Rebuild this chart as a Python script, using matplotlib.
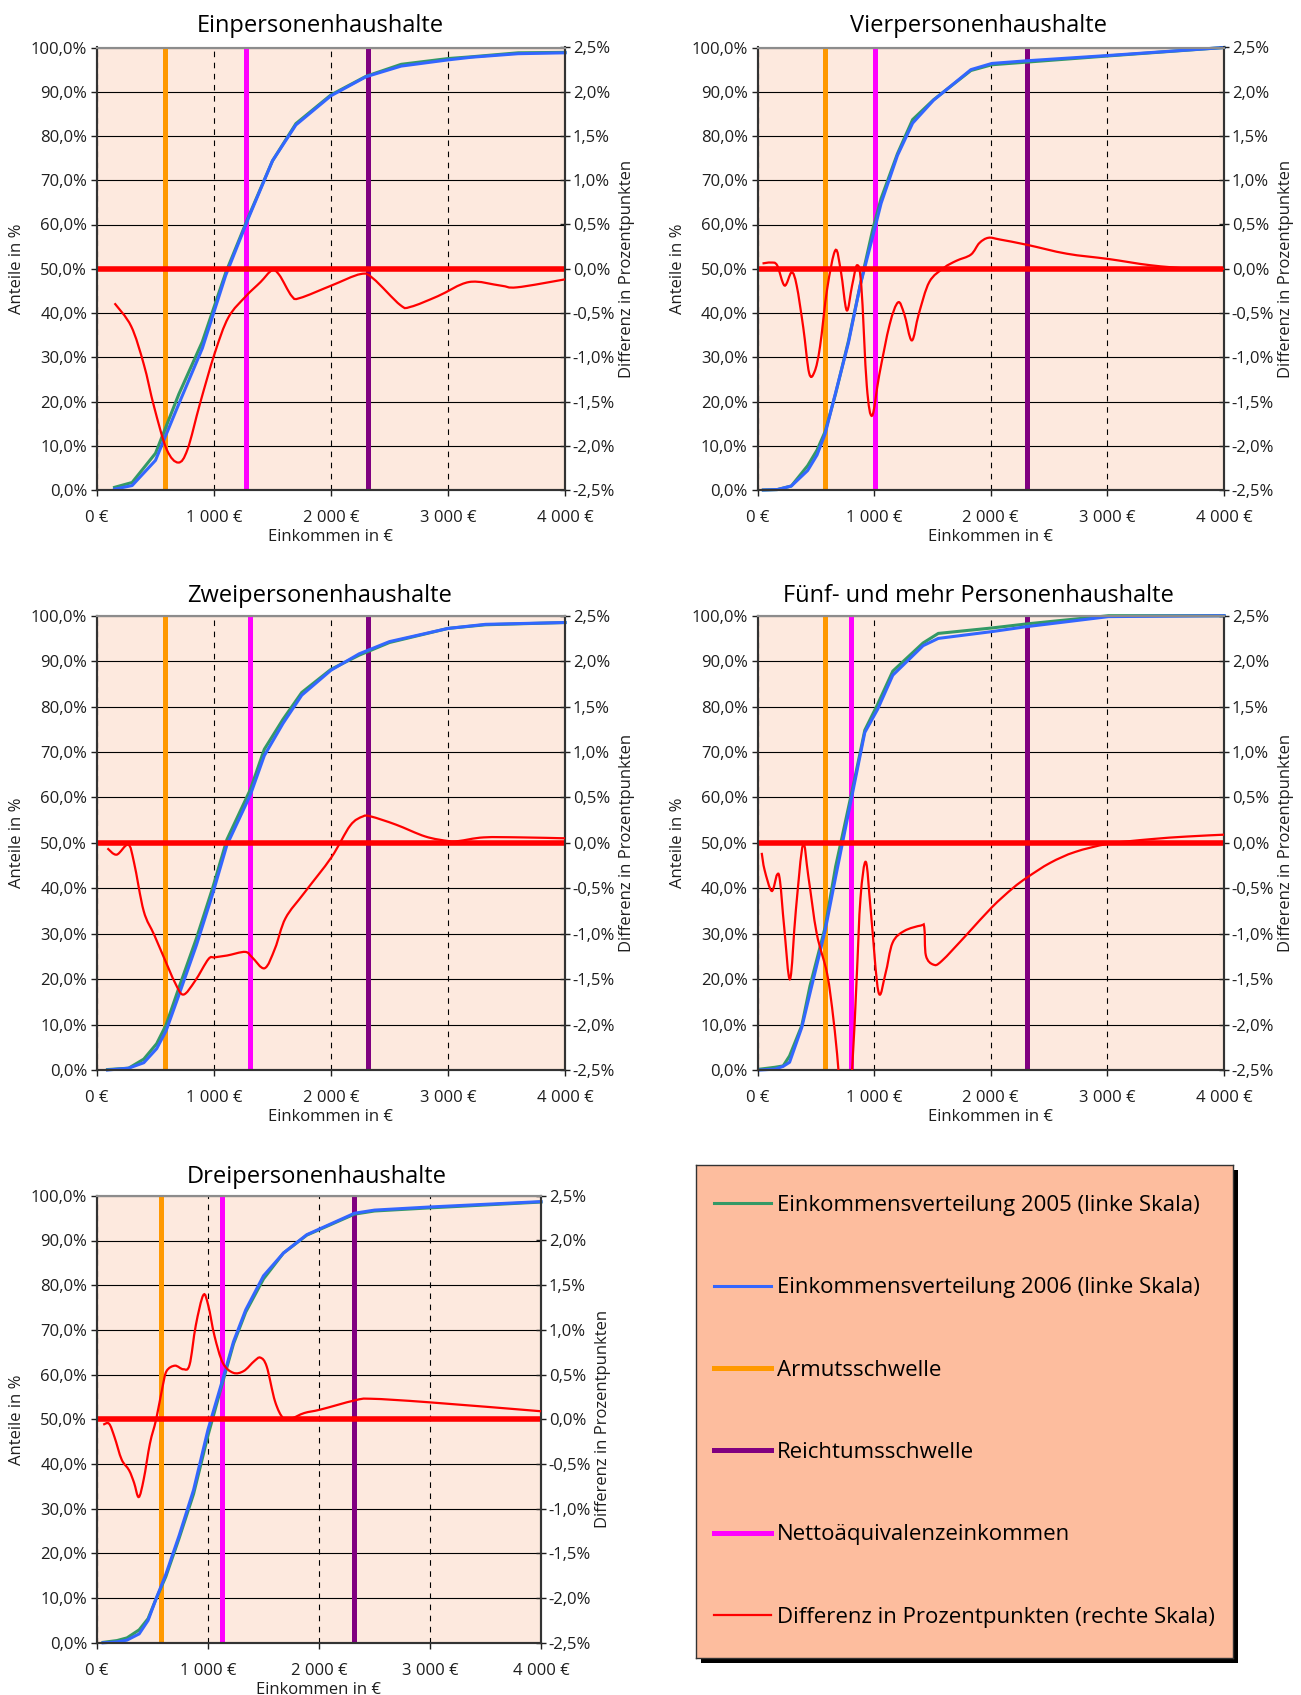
import matplotlib
matplotlib.use('Agg')
import matplotlib.pyplot as plt
from matplotlib.ticker import FuncFormatter, MultipleLocator
from matplotlib.patches import Rectangle, PathPatch
from matplotlib.path import Path
from matplotlib.lines import Line2D

plt.rcParams['font.family'] = ['Open Sans', 'DejaVu Sans']

W, H = 1301, 1695

# Schwellen in Euro (fuer alle Haushaltstypen gleich)
armutsschwelle = 580
reichtumsschwelle = 2314

# --- Einpersonenhaushalte ---
ein_x = [150, 300, 500, 700, 900, 1100, 1300, 1500, 1700, 2000, 2300, 2600, 3000, 3200, 3600, 4000]
ein_2006 = [0.2, 1.0, 6.7, 19.5, 32.0, 48.5, 61.8, 74.4, 82.5, 89.1, 93.4, 95.8, 97.2, 97.8, 98.6, 98.8]
ein_2005 = [0.6, 1.7, 8.3, 21.7, 33.5, 49.1, 62.1, 74.4, 82.8, 89.3, 93.5, 96.2, 97.5, 97.9, 98.8, 98.9]
ein_diff_x = [150, 292, 400, 488, 595, 695, 774, 881, 1005, 1123, 1273, 1398, 1494, 1558, 1665, 1736,
              2003, 2253, 2360, 2592, 2681, 2913, 3180, 3448, 3590, 4000]
ein_diff = [-0.39, -0.65, -1.08, -1.56, -2.04, -2.19, -2.04, -1.52, -0.96, -0.55, -0.31, -0.15, -0.02,
            -0.07, -0.31, -0.33, -0.19, -0.06, -0.11, -0.41, -0.43, -0.31, -0.15, -0.19, -0.21, -0.12]
ein_netto = 1270

# --- Vierpersonenhaushalte ---
vier_x = [50, 170, 290, 430, 510, 580, 670, 780, 880, 990, 1060, 1200, 1330, 1510, 1830, 2010, 2310, 3010, 4000]
vier_2006 = [0.0, 0.1, 0.9, 4.4, 7.9, 12.7, 22.0, 33.3, 46.2, 57.5, 64.8, 75.6, 82.9, 88.1, 95.0, 96.4, 97.0, 98.2, 100.0]
vier_2005 = [0.0, 0.1, 0.9, 5.5, 9.0, 13.2, 21.8, 33.7, 46.2, 59.1, 65.9, 76.0, 83.7, 88.2, 94.8, 96.1, 96.7, 98.1, 100.0]
vier_diff_x = [43, 114, 168, 232, 293, 336, 393, 443, 490, 536, 597, 668, 715, 765, 811, 854, 890, 937,
               983, 1044, 1133, 1205, 1258, 1323, 1383, 1473, 1598, 1705, 1830, 1902, 1980, 2080, 2313,
               2652, 3010, 3367, 3725, 4000]
vier_diff = [0.06, 0.07, 0.04, -0.19, -0.04, -0.19, -0.67, -1.18, -1.16, -0.88, -0.23, 0.21, -0.03, -0.47,
             -0.19, 0.04, -0.19, -1.32, -1.66, -1.20, -0.63, -0.38, -0.51, -0.81, -0.51, -0.15, 0.01, 0.09,
             0.16, 0.29, 0.35, 0.33, 0.27, 0.17, 0.11, 0.04, 0.00, 0.00]
vier_netto = 1010

# --- Zweipersonenhaushalte ---
zwei_x = [90, 270, 400, 510, 590, 700, 850, 990, 1110, 1310, 1430, 1590, 1750, 2000, 2240, 2500, 3000, 3320, 4000]
zwei_2006 = [0.0, 0.4, 1.6, 4.7, 8.6, 16.5, 27.5, 38.9, 49.5, 60.5, 69.2, 76.3, 82.5, 88.0, 91.6, 94.3, 97.2, 98.1, 98.5]
zwei_2005 = [0.1, 0.4, 2.4, 5.8, 9.9, 18.1, 29.0, 40.2, 50.7, 61.7, 70.6, 77.2, 83.1, 88.2, 91.3, 94.1, 97.2, 98.0, 98.5]
zwei_diff_x = [89, 168, 267, 317, 399, 488, 578, 667, 738, 838, 952, 1005, 1112, 1266, 1326, 1433, 1522,
               1611, 1772, 2003, 2164, 2271, 2342, 2556, 2806, 3002, 3091, 3305, 3626, 4000]
zwei_diff = [-0.06, -0.13, -0.02, -0.22, -0.75, -1.01, -1.28, -1.54, -1.67, -1.52, -1.28, -1.26, -1.24,
             -1.20, -1.26, -1.38, -1.16, -0.83, -0.55, -0.16, 0.19, 0.29, 0.29, 0.20, 0.07, 0.02, 0.02,
             0.06, 0.06, 0.05]
zwei_netto = 1305

# --- Fuenf- und mehr Personenhaushalte ---
fuenf_x = [25, 150, 220, 275, 380, 450, 580, 670, 830, 920, 1030, 1160, 1420, 1550, 2010, 2310, 3010, 4000]
fuenf_2006 = [0.0, 0.2, 0.8, 1.7, 9.4, 16.9, 30.7, 42.5, 62.9, 74.3, 79.4, 86.9, 93.4, 95.0, 96.5, 97.6, 99.8, 100.0]
fuenf_2005 = [0.2, 0.6, 0.9, 3.1, 9.8, 18.5, 31.4, 44.8, 63.7, 74.8, 80.5, 87.8, 94.0, 96.1, 97.3, 98.2, 100.0, 100.0]
fuenf_diff_x = [36, 61, 122, 168, 193, 229, 279, 329, 390, 436, 508, 597, 651, 694, 750, 811, 850, 883,
                929, 972, 1037, 1097, 1158, 1258, 1401, 1430, 1444, 1508, 1580, 1794, 2009, 2188, 2313,
                2510, 2724, 3010, 3367, 3689, 4000]
fuenf_diff = [-0.11, -0.30, -0.53, -0.35, -0.42, -0.93, -1.50, -0.74, -0.02, -0.37, -1.00, -1.44, -1.94,
              -2.50, -3.50, -2.50, -1.50, -0.61, -0.21, -0.76, -1.64, -1.44, -1.10, -0.97, -0.91, -0.93,
              -1.24, -1.34, -1.30, -1.01, -0.71, -0.50, -0.38, -0.22, -0.10, -0.01, 0.04, 0.07, 0.09]
fuenf_netto = 805

# --- Dreipersonenhaushalte ---
drei_x = [55, 180, 270, 380, 460, 530, 620, 740, 870, 1000, 1130, 1230, 1340, 1500, 1680, 1890, 2320, 2500, 3000, 4000]
drei_2006 = [0.0, 0.2, 0.6, 2.0, 5.0, 9.7, 15.3, 24.0, 34.2, 47.7, 58.7, 67.4, 74.5, 82.1, 87.2, 91.3, 96.1, 96.8, 97.5, 98.7]
drei_2005 = [0.1, 0.5, 1.1, 2.9, 5.4, 9.7, 14.8, 23.4, 33.3, 46.4, 58.1, 66.9, 74.0, 81.4, 87.2, 91.2, 95.9, 96.6, 97.3, 98.6]
drei_diff_x = [56, 109, 158, 222, 289, 334, 376, 421, 477, 533, 590, 627, 702, 777, 834, 890, 958, 1003,
               1059, 1134, 1228, 1322, 1416, 1472, 1529, 1604, 1679, 1754, 1867, 2017, 2317, 2467, 2994, 4000]
drei_diff = [-0.06, -0.05, -0.20, -0.45, -0.57, -0.71, -0.87, -0.67, -0.27, 0.00, 0.36, 0.54, 0.60, 0.56,
             0.61, 1.05, 1.39, 1.27, 0.93, 0.63, 0.52, 0.54, 0.65, 0.69, 0.59, 0.20, 0.01, 0.01, 0.07,
             0.11, 0.21, 0.23, 0.19, 0.09]
drei_netto = 1130

legend_labels = ['Einkommensverteilung 2005 (linke Skala)', 'Einkommensverteilung 2006 (linke Skala)',
                 'Armutsschwelle', 'Reichtumsschwelle', 'Nettoäquivalenzeinkommen',
                 'Differenz in Prozentpunkten (rechte Skala)']

GREEN = '#339966'
BLUE = '#3366FF'
ORANGE = '#FF9900'
PURPLE = '#800080'
MAGENTA = '#FF00FF'
RED = '#FF0000'
PLOT_BG = '#FDE9DE'
LEG_BG = '#FDBD9E'
TXT = '#1e1e1e'

fig = plt.figure(figsize=(W / 100, H / 100), dpi=100)


def px_axes(left, top, right, bottom):
    return fig.add_axes([left / W, 1 - bottom / H, (right - left) / W, (bottom - top) / H])


def smooth_path(xs, ys):
    # geglaettete Linie wie in Excel (Bezier-Segmente durch die Punkte)
    pts = list(zip(xs, ys))
    n = len(pts)
    verts = [pts[0]]
    codes = [Path.MOVETO]
    for i in range(n - 1):
        p0 = pts[i - 1] if i > 0 else pts[i]
        p1, p2 = pts[i], pts[i + 1]
        p3 = pts[i + 2] if i + 2 < n else pts[i + 1]
        c1 = (p1[0] + (p2[0] - p0[0]) / 6, p1[1] + (p2[1] - p0[1]) / 6)
        c2 = (p2[0] - (p3[0] - p1[0]) / 6, p2[1] - (p3[1] - p1[1]) / 6)
        verts += [c1, c2, p2]
        codes += [Path.CURVE4] * 3
    return Path(verts, codes)


def panel(box, title, x, y06, y05, dx, dy, netto, title_pad, title_shift):
    ax = px_axes(*box)
    width = box[2] - box[0]
    ax.set_facecolor(PLOT_BG)
    ax.set_xlim(0, 4000)
    ax.set_ylim(0, 100)
    ax.yaxis.set_major_locator(MultipleLocator(10))
    ax.xaxis.set_major_locator(MultipleLocator(1000))
    ax.yaxis.set_major_formatter(FuncFormatter(lambda v, p: f'{v:.1f}%'.replace('.', ',')))
    ax.xaxis.set_major_formatter(FuncFormatter(lambda v, p: f'{int(v):,} €'.replace(',', ' ')))
    ax.grid(axis='y', color='black', lw=0.8)
    ax.grid(axis='x', color='black', lw=0.8, linestyle=(0, (5, 5)))
    ax.set_axisbelow(True)

    h_orange = ax.axvline(armutsschwelle, color=ORANGE, lw=3.6, zorder=2)
    h_purple = ax.axvline(reichtumsschwelle, color=PURPLE, lw=3.6, zorder=2)
    h_magenta = ax.axvline(netto, color=MAGENTA, lw=3.6, zorder=2)
    h_green, = ax.plot(x, y05, color=GREEN, lw=2.2, zorder=3, clip_on=False)
    h_blue, = ax.plot(x, y06, color=BLUE, lw=2.2, zorder=4, clip_on=False)

    ax2 = ax.twinx()
    ax2.set_ylim(-2.5, 2.5)
    ax2.yaxis.set_major_locator(MultipleLocator(0.5))
    ax2.yaxis.set_major_formatter(FuncFormatter(lambda v, p: f'{v:.1f}%'.replace('.', ',').replace('-0,0', '0,0')))
    ax2.axhline(0, color=RED, lw=4, zorder=2)
    ax2.add_patch(PathPatch(smooth_path(dx, dy), fill=False, edgecolor=RED, lw=1.6, zorder=3))
    h_red = Line2D([], [], color=RED, lw=1.6)

    for a in (ax, ax2):
        for s in ('left', 'bottom', 'right'):
            a.spines[s].set_color('#333333')
            a.spines[s].set_linewidth(1.5)
        a.spines['top'].set_color('#8c8c8c')
        a.spines['top'].set_linewidth(1.5)

    ax.tick_params(axis='y', direction='out', length=4, width=1, labelsize=12, pad=3, colors=TXT)
    ax.tick_params(axis='x', direction='out', length=4, width=1, labelsize=12, pad=10.5, colors=TXT)
    ax2.tick_params(axis='y', direction='inout', length=7, width=1, labelsize=12, pad=2, colors=TXT)

    ax.set_title(title, fontsize=17, pad=title_pad, color='black', x=0.5 - title_shift / width)
    ax.set_ylabel('Anteile in %', fontsize=12, color=TXT)
    ax.yaxis.set_label_coords(-72 / width, 0.5)
    ax.set_xlabel('Einkommen in €', fontsize=12, color=TXT, labelpad=2)
    ax2.set_ylabel('Differenz in Prozentpunkten', fontsize=12, color=TXT)
    ax2.yaxis.set_label_coords(1 + 54 / width, 0.5)
    return [h_green, h_blue, h_orange, h_purple, h_magenta, h_red]


handles = panel((97, 47.5, 565, 490), 'Einpersonenhaushalte',
                ein_x, ein_2006, ein_2005, ein_diff_x, ein_diff, ein_netto, 11, 11)
panel((757.5, 47.5, 1224, 490), 'Vierpersonenhaushalte',
      vier_x, vier_2006, vier_2005, vier_diff_x, vier_diff, vier_netto, 11, 12)
panel((97, 615.7, 565, 1070), 'Zweipersonenhaushalte',
      zwei_x, zwei_2006, zwei_2005, zwei_diff_x, zwei_diff, zwei_netto, 10, 11)
panel((757.5, 615.7, 1224, 1070), 'Fünf- und mehr Personenhaushalte',
      fuenf_x, fuenf_2006, fuenf_2005, fuenf_diff_x, fuenf_diff, fuenf_netto, 10, 12)
panel((97, 1195.8, 541, 1642.8), 'Dreipersonenhaushalte',
      drei_x, drei_2006, drei_2005, drei_diff_x, drei_diff, drei_netto, 9, 2)

# Legendenkasten mit Schatten
lx0, ly0, lx1, ly1 = 696, 1165, 1233, 1657.7
fig.patches.append(Rectangle(((lx0 + 5) / W, 1 - (ly1 + 5) / H), (lx1 - lx0) / W, (ly1 - ly0) / H,
                             transform=fig.transFigure, facecolor='black', edgecolor='none', zorder=-1))
lax = px_axes(lx0, ly0, lx1, ly1)
lax.set_facecolor(LEG_BG)
lax.set_xticks([])
lax.set_yticks([])
for s in lax.spines.values():
    s.set_color('#333333')
    s.set_linewidth(1)
lax.legend(handles, legend_labels, loc='center', frameon=False, fontsize=16,
           labelspacing=2.76, handlelength=2.57, handletextpad=0.25, borderaxespad=0)

fig.savefig('out.png', dpi=100)
